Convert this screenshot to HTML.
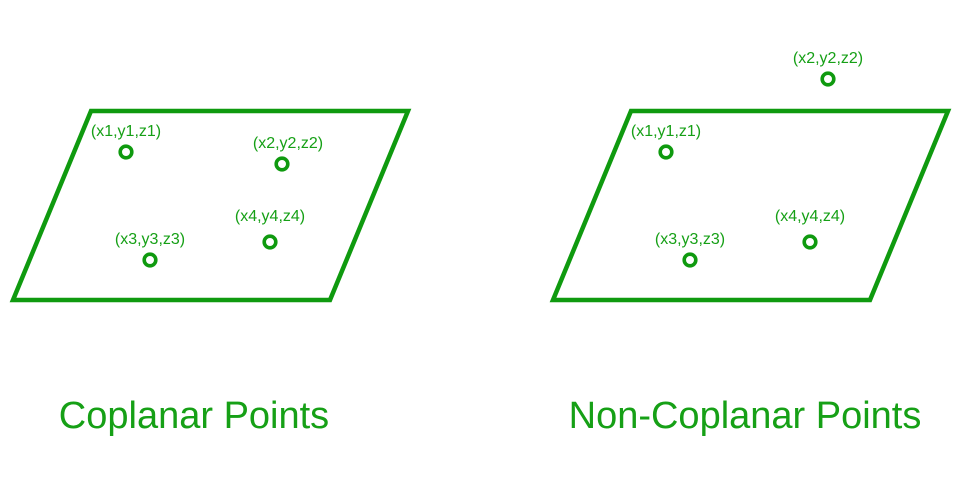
<!DOCTYPE html>
<html><head><meta charset="utf-8"><style>
html,body{margin:0;padding:0;background:#fff;}
svg{display:block;font-family:"Liberation Sans",sans-serif;}
</style></head><body>
<svg width="974" height="494" viewBox="0 0 974 494">
<g id="left"></g>
<g id="right"></g>
<text x="194" y="428" text-anchor="middle" font-size="38" fill="#16a016">Coplanar Points</text>
<text x="745" y="428" text-anchor="middle" font-size="38" fill="#16a016">Non-Coplanar Points</text>
</svg>
<script>
const planeCorners = [[91,111],[408,111],[330,300],[13,300]];
const leftLabels = ["(x1,y1,z1)","(x2,y2,z2)","(x3,y3,z3)","(x4,y4,z4)"];
const leftX = [126,282,150,270];
const leftY = [152,164,260,242];
const rightX = [126,288,150,270];
const rightY = [152,79,260,242];
const labelDX = [0,6,0,0];
const labelDY = [-16,-16,-16,-21];
const rightOffset = 540;
const NS="http://www.w3.org/2000/svg";
function panel(g, off, xs, ys){
  const p=document.createElementNS(NS,'polygon');
  
  
  p.setAttribute('points',planeCorners.map(c=>(c[0]+off)+','+c[1]).join(' '));
  p.setAttribute('fill','none');p.setAttribute('stroke','#0f9a0f');p.setAttribute('stroke-width','4.5');
  g.appendChild(p);
  for(let i=0;i<xs.length;i++){
    const c=document.createElementNS(NS,'circle');
    
    
    c.setAttribute('cx',xs[i]+off);c.setAttribute('cy',ys[i]);c.setAttribute('r','5.8');
    c.setAttribute('fill','none');c.setAttribute('stroke','#0f9a0f');c.setAttribute('stroke-width','3.6');
    g.appendChild(c);
    const t=document.createElementNS(NS,'text');
    
    
    const dx = (off===0 || i!==1) ? labelDX[i] : 0;
    t.setAttribute('x',xs[i]+off+dx);t.setAttribute('y',ys[i]+labelDY[i]);
    t.setAttribute('text-anchor','middle');t.setAttribute('font-size','16');t.setAttribute('fill','#16a016');
    t.textContent=leftLabels[i];
    g.appendChild(t);
  }
}
panel(document.getElementById('left'),0,leftX,leftY);
panel(document.getElementById('right'),rightOffset,rightX,rightY);
</script>
</body></html>
